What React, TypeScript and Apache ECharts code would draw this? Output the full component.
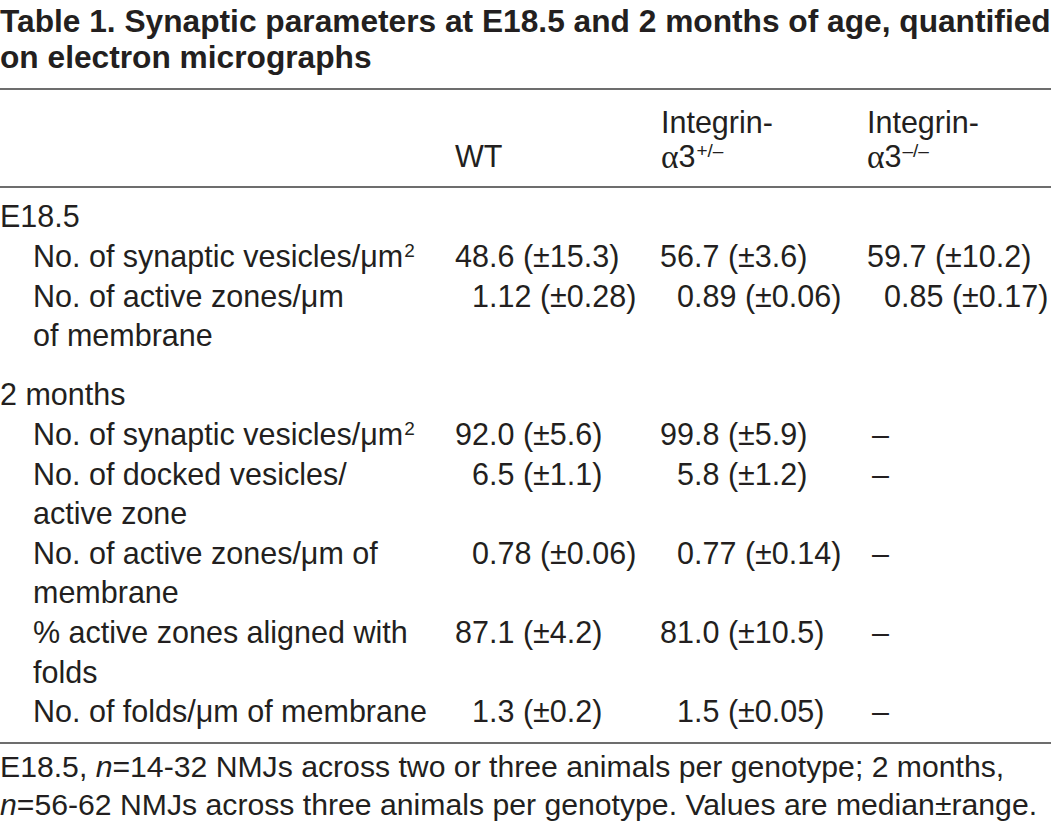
import React, { useEffect, useRef } from "react";
import * as echarts from "echarts";

// ---- Table content ----
const titleLines = [
  "Table 1. Synaptic parameters at E18.5 and 2 months of age, quantified",
  "on electron micrographs",
];
const headerTop = ["", "Integrin-", "Integrin-"];
const headerBase = ["WT", "α3", "α3"];
const headerSup = ["", "+/–", "–/–"];

const groupLabels = ["E18.5", "2 months"];

const e18Labels = [["No. of synaptic vesicles/μm²"], ["No. of active zones/μm", "of membrane"]];
const e18WT = ["48.6 (±15.3)", "1.12 (±0.28)"];
const e18Het = ["56.7 (±3.6)", "0.89 (±0.06)"];
const e18KO = ["59.7 (±10.2)", "0.85 (±0.17)"];

const m2Labels = [
  ["No. of synaptic vesicles/μm²"],
  ["No. of docked vesicles/", "active zone"],
  ["No. of active zones/μm of", "membrane"],
  ["% active zones aligned with", "folds"],
  ["No. of folds/μm of membrane"],
];
const m2WT = ["92.0 (±5.6)", "6.5 (±1.1)", "0.78 (±0.06)", "87.1 (±4.2)", "1.3 (±0.2)"];
const m2Het = ["99.8 (±5.9)", "5.8 (±1.2)", "0.77 (±0.14)", "81.0 (±10.5)", "1.5 (±0.05)"];
const m2KO = ["–", "–", "–", "–", "–"];

const footnoteLines = [
  "E18.5, *n*=14-32 NMJs across two or three animals per genotype; 2 months,",
  "*n*=56-62 NMJs across three animals per genotype. Values are median±range.",
];

// ---- Styling / layout ----
const FONT = "'Liberation Sans', Arial, Helvetica, sans-serif";
const SERIF = "'Liberation Serif', 'Times New Roman', serif";
const COLOR = "#231f20";
const FS = 30.5;
const FOOT_FS = 30.2;
const TFS = 31.7;
const SUPFS = 19;
const DIGIT_W = FS * 0.556;
const CENTRAL = 0.3465; // alphabetic -> central baseline offset (em)

const LABEL_X = 0;
const ITEM_X = 33;
const COL_X = [455, 661, 867];
const DEC_X = [489, 694, 901];
const DASH_X = 872;
const LINE = 39.6;

function richLabel(s: string): string {
  return s.replace(/²/g, "{sup|2}").replace(/\*(.+?)\*/g, "{it|$1}");
}

function richStyles(fs: number) {
  return {
    sup: { fontSize: SUPFS, lineHeight: SUPFS, verticalAlign: "top", fontFamily: FONT, fill: COLOR, padding: [0, 0, 0, 1] },
    it: { fontStyle: "italic", fontSize: fs, lineHeight: fs, fontFamily: FONT, fill: COLOR },
    a: { fontSize: fs + 3, lineHeight: fs, fontFamily: SERIF, fill: COLOR },
  };
}

function txt(text: string, x: number, baseline: number, opts: any = {}) {
  const fs = opts.fontSize || FS;
  return {
    type: "text",
    x,
    y: baseline - CENTRAL * fs,
    silent: true,
    style: {
      text,
      fill: COLOR,
      fontFamily: FONT,
      fontSize: fs,
      fontWeight: opts.fontWeight || "normal",
      lineHeight: fs,
      align: opts.align || "left",
      verticalAlign: "middle",
      rich: richStyles(fs),
    },
  };
}

function rule(y: number) {
  return {
    type: "line",
    silent: true,
    shape: { x1: 0, y1: y, x2: 1051, y2: y },
    style: { stroke: "#3c3c3c", lineWidth: 1.6 },
  };
}

function valueX(v: string, col: number): number {
  if (v === "–") return DASH_X;
  const intPart = v.split(".")[0];
  return DEC_X[col] - intPart.length * DIGIT_W;
}

function buildElements() {
  const els: any[] = [];
  // title
  els.push(txt(titleLines[0], 0, 32, { fontSize: TFS, fontWeight: "bold" }));
  els.push(txt(titleLines[1], 0, 68, { fontSize: TFS, fontWeight: "bold" }));
  els.push(rule(89));
  // header
  for (let c = 0; c < 3; c++) {
    if (headerTop[c]) els.push(txt(headerTop[c], COL_X[c], 133));
    const base = headerBase[c];
    let s = base.startsWith("α") ? "{a|α}" + base.slice(1) : base;
    if (headerSup[c]) s += "{sup|" + headerSup[c] + "}";
    els.push(txt(s, COL_X[c], 167));
  }
  els.push(rule(187));

  const groups = [
    { label: groupLabels[0], labels: e18Labels, cols: [e18WT, e18Het, e18KO], start: 227 },
    { label: groupLabels[1], labels: m2Labels, cols: [m2WT, m2Het, m2KO], start: 405 },
  ];
  for (const g of groups) {
    els.push(txt(g.label, LABEL_X, g.start));
    let y = g.start + LINE;
    g.labels.forEach((lines, i) => {
      lines.forEach((ln, k) => {
        els.push(txt(richLabel(ln), ITEM_X, y + k * LINE));
      });
      for (let c = 0; c < 3; c++) {
        const v = g.cols[c][i];
        els.push(txt(v, valueX(v, c), y));
      }
      y += lines.length * LINE;
    });
  }
  els.push(rule(743));
  els.push(txt(richLabel(footnoteLines[0]), 0, 777, { fontSize: FOOT_FS }));
  els.push(txt(richLabel(footnoteLines[1]), 0, 815, { fontSize: FOOT_FS }));
  return els;
}

export default function App() {
  const ref = useRef<HTMLDivElement>(null);
  useEffect(() => {
    if (!ref.current) return;
    const chart = echarts.init(ref.current, undefined, { renderer: "svg" });
    chart.setOption({
      animation: false,
      backgroundColor: "#ffffff",
      graphic: { elements: buildElements() },
    });
    return () => chart.dispose();
  }, []);
  return (
    <div
      ref={ref}
      style={{ position: "absolute", left: 0, top: 0, width: 1051, height: 824, background: "#fff" }}
    />
  );
}
